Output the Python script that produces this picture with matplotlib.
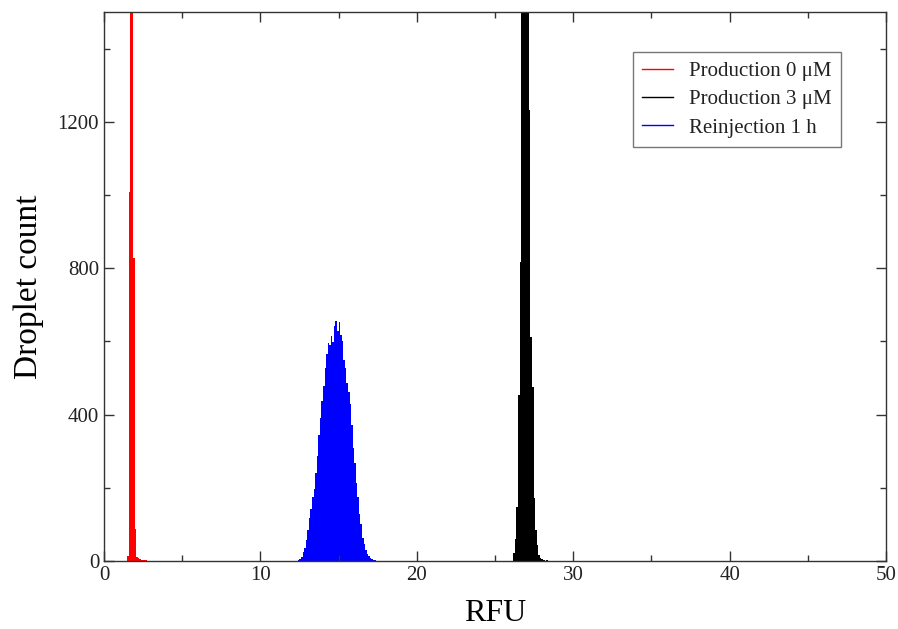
import matplotlib
matplotlib.use("Agg")
import matplotlib.pyplot as plt
from matplotlib.lines import Line2D
from matplotlib.ticker import MultipleLocator

# ---- data (histogram bins, width 0.1 RFU) ----
bin_width = 0.1

red_centers = [1.52, 1.62, 1.72, 1.82, 1.92, 2.02, 2.12, 2.22, 2.32, 2.42, 2.52, 2.62, 2.72]
red_counts = [15, 1009, 2500, 1950, 828, 87, 12, 8, 6, 4, 3, 2, 2]

black_centers = [26.22, 26.32, 26.42, 26.52, 26.62, 26.72, 26.82, 26.92, 27.02, 27.12,
                 27.22, 27.32, 27.42, 27.52, 27.62, 27.72, 27.82, 27.92, 28.02, 28.12, 28.32]
black_counts = [22, 60, 148, 454, 818, 2200, 2600, 2500, 2000, 1600,
                1233, 612, 476, 172, 85, 44, 16, 8, 5, 3, 2]

blue_centers = [12.45, 12.55, 12.65, 12.75, 12.85, 12.95, 13.05, 13.15, 13.25, 13.35,
                13.45, 13.55, 13.65, 13.75, 13.85, 13.95, 14.05, 14.15, 14.25, 14.35,
                14.45, 14.55, 14.65, 14.75, 14.85, 14.95, 15.05, 15.15, 15.25, 15.35,
                15.45, 15.55, 15.65, 15.75, 15.85, 15.95, 16.05, 16.15, 16.25, 16.35,
                16.45, 16.55, 16.65, 16.75, 16.85, 16.95, 17.05, 17.15, 17.25, 17.35]
blue_counts = [3, 6, 12, 24, 36, 57, 84, 118, 142, 175,
               198, 240, 286, 345, 392, 438, 478, 528, 566, 596,
               590, 615, 598, 642, 656, 628, 652, 618, 602, 548,
               528, 486, 462, 428, 372, 308, 268, 212, 176, 128,
               102, 64, 46, 30, 20, 13, 8, 5, 3, 2]

labels = ["Production 0 \u03bcM", "Production 3 \u03bcM", "Reinjection 1 h"]
colors = ["#ff0000", "#000000", "#0000ff"]

x_ticks = [0, 10, 20, 30, 40, 50]
y_ticks = [0, 400, 800, 1200]

# ---- plot ----
plt.rcParams['font.family'] = ['Liberation Serif', 'DejaVu Serif']
fig = plt.figure(figsize=(8.98, 6.29), dpi=100)
ax = fig.add_axes([0.1158, 0.1081, 0.8708, 0.8729])

for c, v, col in zip([red_centers, black_centers, blue_centers],
                     [red_counts, black_counts, blue_counts], colors):
    ax.bar(c, v, width=bin_width, color=col, linewidth=0, align='center')

ax.set_xlim(0, 50)
ax.set_ylim(0, 1500)
ax.set_xticks(x_ticks)
ax.set_yticks(y_ticks)
ax.xaxis.set_minor_locator(MultipleLocator(5))
ax.yaxis.set_minor_locator(MultipleLocator(200))
ax.tick_params(which='both', direction='in', top=True, right=True,
               labelsize=15, colors='#333333', labelcolor='#222222')
ax.tick_params(which='major', length=7, width=1)
ax.tick_params(which='minor', length=4, width=1)
for s in ax.spines.values():
    s.set_linewidth(1.0)
    s.set_color('#333333')

ax.set_xlabel("RFU", fontsize=23, labelpad=10)
ax.set_ylabel("Droplet count", fontsize=24, labelpad=10)

handles = [Line2D([], [], color=col, lw=1) for col in colors]
leg = ax.legend(handles, labels, loc='upper right', bbox_to_anchor=(0.9425, 0.927),
                borderaxespad=0, fontsize=15, frameon=True, fancybox=False,
                handlelength=1.5, borderpad=0.45, labelspacing=0.42,
                handletextpad=0.75)
leg.get_frame().set_edgecolor('#555555')
leg.get_frame().set_linewidth(1.0)
for t in leg.get_texts():
    t.set_color('#222222')

fig.savefig("out.png", dpi=100)
